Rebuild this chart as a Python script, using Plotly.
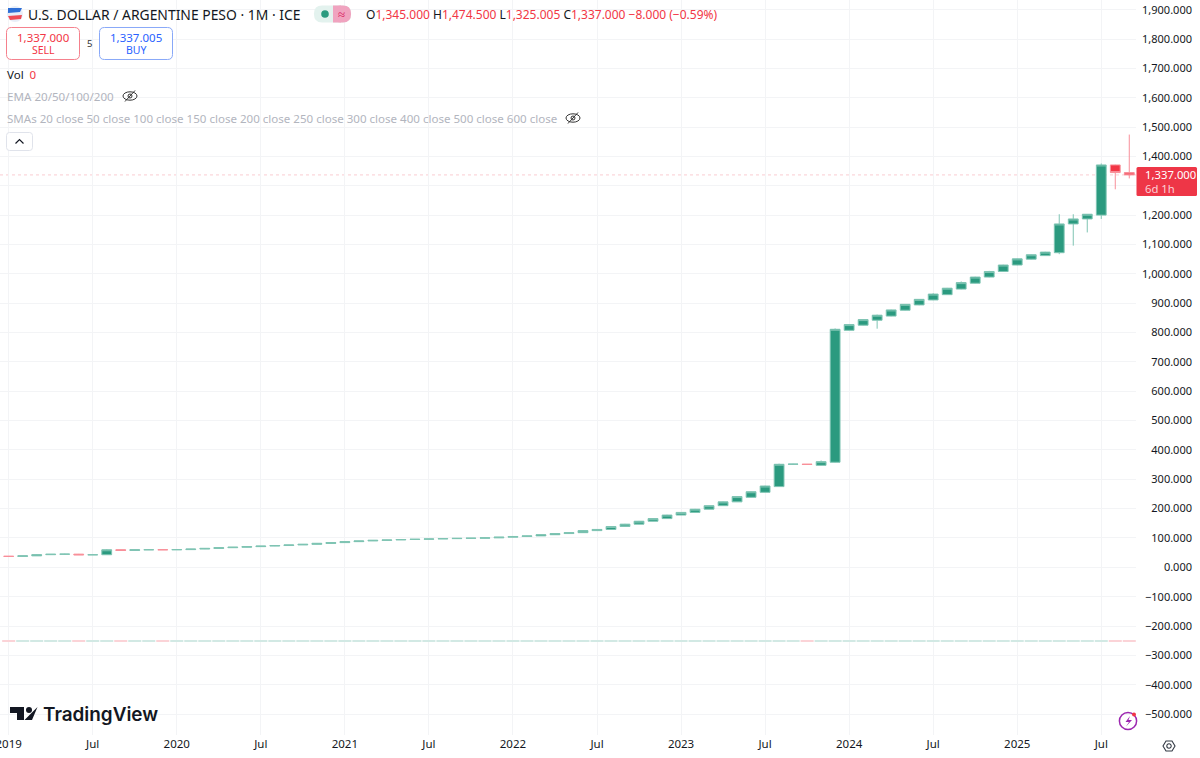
import plotly.graph_objects as go

# ---------- data (monthly, Jan 2019 .. Sep 2025) ----------
opens = [37.6,37.2,39.0,43.0,44.5,44.9,42.5,42.8,59.8,57.6,59.7,59.9,
         59.8,60.3,62.2,64.4,66.8,68.5,70.4,72.3,74.2,76.2,78.3,81.5,
         84.1,87.4,89.8,91.9,93.1,94.7,95.7,96.7,97.7,98.7,99.3,100.3,
         102.7,105,107,111,115,118,125,129,139,147,157,166,
         178,187,198,210,223,238.5,255.5,275,351,351.5,347.5,358,
         807.5,825,842,856,876,894,911,929,948,968,989,1008,
         1030,1050,1062,1072,1170,1187,1200,1371,1345]
closes = [37.2,39.0,43.0,44.5,44.9,42.5,42.8,59.8,57.6,59.7,59.9,59.8,
          60.3,62.2,64.4,66.8,68.5,70.4,72.3,74.2,76.2,78.3,81.5,84.1,
          87.4,89.8,91.9,93.1,94.7,95.7,96.7,97.7,98.7,99.3,100.3,102.7,
          105,107,111,115,118,125,129,139,147,157,166,178,
          187,198,210,223,241,257.5,277,351,351.5,350.5,360,811,
          827,844,859,877,896,913,931,951,970,989,1008,1030,
          1051,1065,1074,1170,1187,1203,1371,1345,1337]
highs = [38,39.5,44,45,46,45.5,43.5,62,60.5,60,60.2,60.2,
         60.5,62.5,65,67,69,70.6,72.5,74.4,76.4,78.5,81.8,84.5,
         87.6,90,92,93.3,95,96,97,98,99,99.6,100.6,103,
         105.3,107.5,111.5,115.5,118.5,125.5,130,140,148,158,167,179,
         188,199,211,224,242,258.5,278,353,352.5,351.5,364,814,
         828,845,861,878,897,914,934,952,974,990,1010,1031,
         1052,1066,1075,1203,1203,1203,1376,1372,1474.5]
lows = [36.8,36.9,38.5,42,44,42,42,42.5,56,57,59,59.5,
        59.5,60,62,64,66.5,68.3,70.2,72,74,76,78,81.3,
        84,87.2,89.6,91.7,93,94.5,95.5,96.5,97.5,98.5,99.1,100.1,
        102.5,104.8,106.8,110.8,114.8,117.8,124.8,128.8,138.8,146.8,156.8,165.8,
        177.8,186.8,197.8,209.8,222.8,238,255,274,350,350.5,347,357,
        806.5,824,813,855,875,893,910,928,947,967,988,1007,
        1029,1049,1061,1067,1096,1141,1187,1288,1325]
months = list(range(len(closes)))
tick_months = [0,6,12,18,24,30,36,42,48,54,60,66,72,78]
tick_labels = ["2019","Jul","2020","Jul","2021","Jul","2022","Jul","2023","Jul","2024","Jul","2025","Jul"]
price_ticks = [1900,1800,1700,1600,1500,1400,1300,1200,1100,1000,900,800,700,600,500,400,300,200,100,0,
               -100,-200,-300,-400,-500]
price_labels = ["1,900.000","1,800.000","1,700.000","1,600.000","1,500.000","1,400.000","","1,200.000",
                "1,100.000","1,000.000","900.000","800.000","700.000","600.000","500.000","400.000",
                "300.000","200.000","100.000","0.000","\u2212100.000","\u2212200.000","\u2212300.000",
                "\u2212400.000","\u2212500.000"]
volume_base = -252.5
volume_height = [3.4] * len(closes)

UP = "#2b9a7f"
UP_EDGE = "#7fc4b3"
DOWN = "#f23645"
DOWN_EDGE = "#f8909a"
FONT = "Noto Sans"
W, H, PW, PH = 1200, 758, 1136, 735


def X(p):
    return p / W


def Y(p):
    return 1 - p / PH


def path(pts, close=True):
    s = "M " + " L ".join(f"{X(a):.5f},{Y(b):.5f}" for a, b in pts)
    return s + (" Z" if close else "")


def rrect(x0, y0, x1, y1, r):
    return (f"M {X(x0+r):.5f},{Y(y0):.5f} L {X(x1-r):.5f},{Y(y0):.5f} Q {X(x1):.5f},{Y(y0):.5f} {X(x1):.5f},{Y(y0+r):.5f} "
            f"L {X(x1):.5f},{Y(y1-r):.5f} Q {X(x1):.5f},{Y(y1):.5f} {X(x1-r):.5f},{Y(y1):.5f} "
            f"L {X(x0+r):.5f},{Y(y1):.5f} Q {X(x0):.5f},{Y(y1):.5f} {X(x0):.5f},{Y(y1-r):.5f} "
            f"L {X(x0):.5f},{Y(y0+r):.5f} Q {X(x0):.5f},{Y(y0):.5f} {X(x0+r):.5f},{Y(y0):.5f} Z")


shapes, notes = [], []


def P(d, fill="rgba(0,0,0,0)", line=None, lw=1):
    shapes.append(dict(type="path", path=d, xref="paper", yref="paper", fillcolor=fill, layer="above",
                       line=dict(color=line or "rgba(0,0,0,0)", width=lw if line else 0)))


def C(cx, cy, rx, ry=None, fill="rgba(0,0,0,0)", line=None, lw=1):
    ry = ry if ry is not None else rx
    shapes.append(dict(type="circle", xref="paper", yref="paper", x0=X(cx-rx), x1=X(cx+rx), y0=Y(cy+ry), y1=Y(cy-ry),
                       fillcolor=fill, layer="above", line=dict(color=line or "rgba(0,0,0,0)", width=lw if line else 0)))


def T(px, py, text, size=11, color="#131722", anchor="left", family=FONT, weight=None):
    font = dict(size=size, color=color, family=family)
    if weight:
        font["weight"] = weight
    notes.append(dict(x=X(px), y=Y(py), xref="paper", yref="paper", text=text, showarrow=False, xanchor=anchor,
                      yanchor="middle", font=font, borderpad=0, borderwidth=0))


# price line
shapes.append(dict(type="line", xref="paper", yref="y", x0=0, x1=X(PW), y0=closes[-1], y1=closes[-1],
                   line=dict(color="#f59aa2", width=0.5, dash="dot"), layer="below"))
# price label
P(rrect(1136.5, 167, 1197, 196, 1.5), fill="#ee3647")
T(1145, 174.5, "1,337.000", size=11.3, color="#ffffff")
T(1145, 188, "6d 1h", size=11.3, color="#fbd0d5")

# header
C(15, 14, 8, fill="#e8eef8")
P(path([(8, 8), (22, 8), (20, 12), (8, 13)]), fill="#2f6fd6")
P(path([(8, 16), (22, 15), (21, 19), (10, 20)]), fill="#ef4a55")
T(28, 14.5, "U.S. DOLLAR / ARGENTINE PESO \u00b7 1M \u00b7 ICE", size=13.9)
P(rrect(314, 5.5, 351, 22.5, 8), fill="#e3f2ee")
P(rrect(333, 5.5, 351, 22.5, 8), fill="#f0a3bf")
P(path([(333, 5.5), (341, 5.5), (341, 22.5), (333, 22.5)]), fill="#f0a3bf")
C(325, 14, 3.8, fill="#2b9a7f")
T(342, 14, "\u2248", size=13, color="#d81b60", anchor="center")
red = "#f23645"
ohlc = (f"O<span style='color:{red}'>1,345.000</span> H<span style='color:{red}'>1,474.500</span> "
        f"L<span style='color:{red}'>1,325.005</span> C<span style='color:{red}'>1,337.000 \u22128.000 (\u22120.59%)</span>")
T(366, 14, ohlc, size=12)

P(rrect(6.5, 27.5, 79.5, 59.5, 5), line="#f5808c", fill="#ffffff")
T(43, 37, "1,337.000", size=11.5, color=red, anchor="center")
T(43, 50, "SELL", size=10.5, color=red, anchor="center")
T(89, 44, "5", size=9.5, color="#333333", anchor="center")
P(rrect(99.5, 27.5, 172.5, 59.5, 5), line="#88a8f8", fill="#ffffff")
T(136, 37, "1,337.005", size=11.5, color="#2962ff", anchor="center")
T(136, 50, "BUY", size=10.5, color="#2962ff", anchor="center")

T(7, 74, f"Vol  <span style='color:{red}'>0</span>", size=11.5)
T(7, 96, "EMA 20/50/100/200", size=11.6, color="#b2b5be")
T(7, 118, "SMAs 20 close 50 close 100 close 150 close 200 close 250 close 300 close 400 close 500 close 600 close",
  size=11.55, color="#b2b5be")
for ex, ey in [(130, 96), (573, 118)]:
    C(ex, ey, 7, 4.2, line="#333333", lw=1)
    C(ex, ey, 2, line="#333333", lw=1)
    P(path([(ex-5, ey+5.5), (ex+5, ey-5.5)], close=False), line="#333333", lw=1)
P(rrect(6.5, 132.5, 32.5, 150.5, 3), line="#e0e3eb", fill="#ffffff")
P(path([(15.5, 143.5), (19.5, 139.5), (23.5, 143.5)], close=False), line="#131722", lw=1.2)

# logo
P(path([(10, 707), (24, 707), (24, 720), (17, 720), (17, 713), (10, 713)]), fill="#131722")
C(29, 710, 3, fill="#131722")
P(path([(30, 714.5), (37.5, 707), (32, 720), (24.5, 720)]), fill="#131722")
T(43, 714, "TradingView", size=18.9, color="#131722", family="Inter", weight=600)

# bolt icon and settings cog
C(1128, 721, 8.6, line="#9c27b0", lw=1.5)
P(path([(1130, 716), (1125.5, 722), (1129, 722), (1126, 726.5), (1132, 720), (1128.5, 720)]), fill="#9c27b0")
C(1134, 714.5, 2, fill="#f23645")
P(path([(1163, 746), (1166, 741), (1172, 741), (1175, 746), (1172, 751), (1166, 751)]), line="#333a45", lw=1.1)
C(1169, 746, 2.2, line="#333a45", lw=1.1)

fig = go.Figure()
fig.add_trace(go.Bar(x=months, y=volume_height, base=volume_base,
                     marker=dict(color=["#fbd3d7" if c < o else "#d2e9e4" for o, c in zip(opens, closes)],
                                 line=dict(width=0)), showlegend=False, hoverinfo="skip"))
fig.add_trace(go.Candlestick(x=months, open=opens, high=highs, low=lows, close=closes, whiskerwidth=0,
                             increasing=dict(line=dict(color=UP_EDGE, width=1), fillcolor=UP),
                             decreasing=dict(line=dict(color=DOWN_EDGE, width=1), fillcolor=DOWN),
                             showlegend=False))
grid = "#f3f4f6"
fig.update_layout(
    width=W, height=H, margin=dict(l=0, r=0, t=0, b=H-PH), paper_bgcolor="#ffffff", plot_bgcolor="#ffffff",
    bargap=0.07, boxgap=0.3, boxgroupgap=0, showlegend=False, font=dict(family=FONT, size=11.5, color="#131722"),
    shapes=shapes, annotations=notes,
    xaxis=dict(domain=[0, PW/W], range=[-0.62, 80.48], tickmode="array", tickvals=tick_months, ticktext=tick_labels,
               gridcolor=grid, gridwidth=1, zeroline=False, showline=False, ticks="", rangeslider=dict(visible=False),
               tickfont=dict(size=11.5, color="#131722", family=FONT), automargin=False, ticklabeloverflow="allow"),
    yaxis=dict(range=[-571.4, 1933], tickmode="array", tickvals=price_ticks, ticktext=price_labels, side="left",
               anchor="free", position=1192/W, gridcolor=grid, gridwidth=1, zeroline=False, showline=False, ticks="",
               tickfont=dict(size=11, color="#131722", family=FONT), automargin=False, ticklabeloverflow="allow"),
)
fig.write_html("out.html", config=dict(displayModeBar=False),
               post_script="document.body.style.margin='0';document.body.style.overflow='hidden';")
